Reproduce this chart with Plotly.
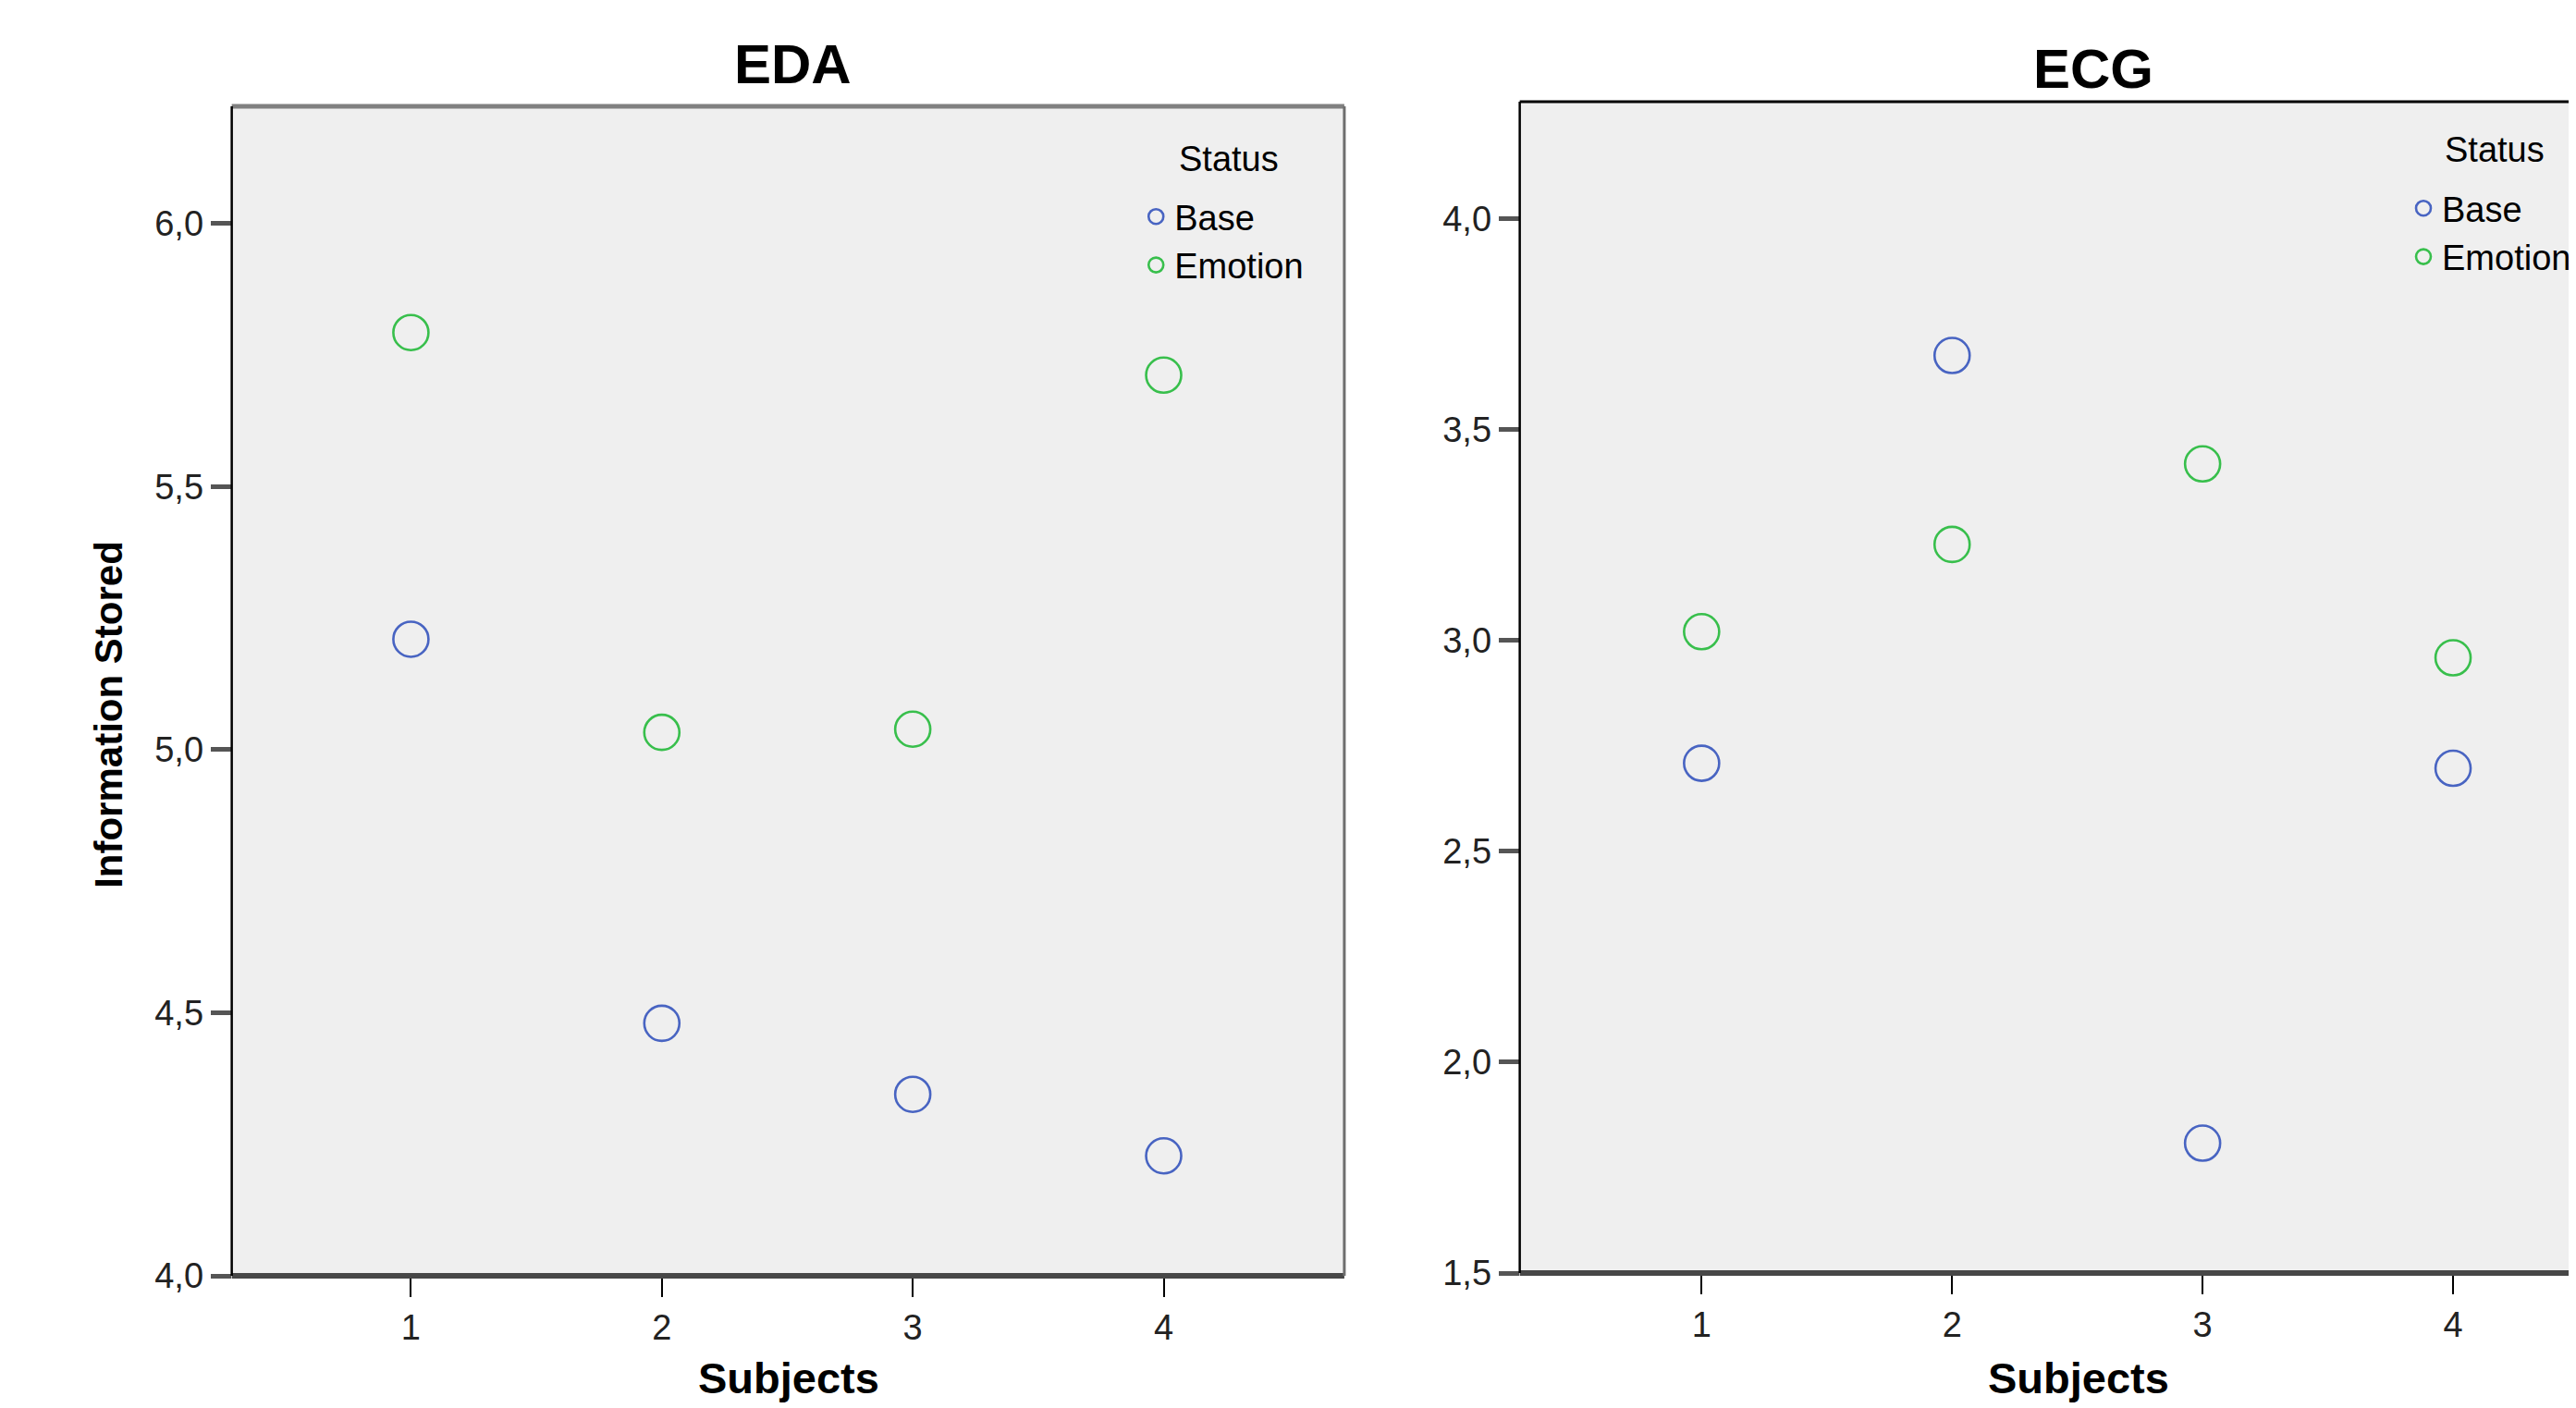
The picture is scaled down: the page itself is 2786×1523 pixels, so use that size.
import plotly.graph_objects as go

# ---- data ----
subjects = [1, 2, 3, 4]
eda_base = [5.21, 4.48, 4.345, 4.228]
eda_emotion = [5.793, 5.033, 5.039, 5.712]
ecg_base = [2.709, 3.676, 1.808, 2.697]
ecg_emotion = [3.021, 3.228, 3.419, 2.959]

eda_yticks = [4.0, 4.5, 5.0, 5.5, 6.0]
ecg_yticks = [1.5, 2.0, 2.5, 3.0, 3.5, 4.0]
x_ticks = [1, 2, 3, 4]
panel_titles = ["EDA", "ECG"]
series_names = ["Base", "Emotion"]
legend_title = "Status"
x_title = "Subjects"
y_title = "Information Stored"

BLUE = "#4864c2"
GREEN = "#38bf4c"
FONT = "Liberation Sans, Arial, sans-serif"
OFF = 8  # default page body margin
W, H = 2786 - OFF, 1523 - OFF

fig = go.Figure()


def add_series(y, name, color, xa, ya, legend):
    fig.add_trace(go.Scatter(
        x=subjects, y=y, mode="markers", name=name,
        xaxis=xa, yaxis=ya, legend=legend,
        marker=dict(symbol="circle-open", size=38, color=color,
                    line=dict(width=2.6, color=color)),
        showlegend=True,
    ))


add_series(eda_base, series_names[0], BLUE, "x", "y", "legend")
add_series(eda_emotion, series_names[1], GREEN, "x", "y", "legend")
add_series(ecg_base, series_names[0], BLUE, "x2", "y2", "legend2")
add_series(ecg_emotion, series_names[1], GREEN, "x2", "y2", "legend2")

# screen coords -> paper coords
px = lambda v: (v - OFF) / W
py = lambda v: 1 - (v - OFF) / H

xcommon = dict(
    tickvals=x_ticks, ticktext=[str(v) for v in x_ticks],
    ticks="outside", ticklen=22, tickwidth=2, tickcolor="black",
    showgrid=False, zeroline=False, showline=False, automargin=False,
    tickfont=dict(family=FONT, size=38, color="#222"),
)
ycommon = dict(
    ticks="outside", ticklen=22, tickwidth=5, tickcolor="#555",
    showgrid=False, zeroline=False, showline=False, tickformat=".1f",
    automargin=False,
    tickfont=dict(family=FONT, size=38, color="#222"),
)

eda_x = [px(251), px(1456)]
eda_y = [py(1380), py(115)]
ecg_x = [px(1646), 1.0]
ecg_y = [py(1377), py(110)]
ecg_xmax = 0.274 + (2786 - 1646) / 271.3

legend_common = dict(
    xanchor="left", yanchor="top",
    bgcolor="rgba(0,0,0,0)", borderwidth=0,
    font=dict(family=FONT, size=38, color="black"),
    tracegroupgap=0, itemwidth=30,
)

fig.update_layout(
    width=W, height=H,
    margin=dict(l=0, r=0, t=0, b=0),
    paper_bgcolor="white",
    plot_bgcolor="#efefef",
    separators=", ",
    font=dict(family=FONT, color="black"),
    xaxis=dict(domain=eda_x, range=[0.286, 4.72], anchor="y", **xcommon),
    yaxis=dict(domain=eda_y, range=[4.0, 6.223], anchor="x",
               tickvals=eda_yticks, **ycommon),
    xaxis2=dict(domain=ecg_x, range=[0.274, ecg_xmax], anchor="y2", **xcommon),
    yaxis2=dict(domain=ecg_y, range=[1.5, 4.278], anchor="x2",
                tickvals=ecg_yticks, **ycommon),
    legend=dict(x=px(1232), y=py(203), **legend_common),
    legend2=dict(x=px(2605), y=py(194), **legend_common),
    showlegend=True,
)


def frame(xr, yr, top_color, top_w, right=True):
    shapes = [
        dict(type="line", xref=f"{xr} domain", yref=f"{yr} domain",
             x0=0, x1=1, y0=0, y1=0, line=dict(color="#474747", width=6)),
        dict(type="line", xref=f"{xr} domain", yref=f"{yr} domain",
             x0=0, x1=1, y0=1, y1=1, line=dict(color=top_color, width=top_w)),
        dict(type="line", xref=f"{xr} domain", yref=f"{yr} domain",
             x0=0, x1=0, y0=0, y1=1, line=dict(color="black", width=2.5)),
    ]
    if right:
        shapes.append(dict(type="line", xref=f"{xr} domain", yref=f"{yr} domain",
                           x0=1, x1=1, y0=0, y1=1,
                           line=dict(color="#6e6e6e", width=3)))
    return shapes


fig.update_layout(shapes=frame("x", "y", "#808080", 5) + frame("x2", "y2", "black", 3, right=False))


def note(text, x, y, size, angle=0):
    return dict(text=text, x=px(x), y=py(y), xref="paper", yref="paper",
                showarrow=False, textangle=angle,
                font=dict(family=FONT, size=size, color="black"),
                xanchor="center", yanchor="middle")


def bottom_note(text, x):
    # box kept fully inside the figure so it neither pushes margins nor gets cut
    return dict(text=text, x=px(x), y=py(1519), xref="paper", yref="paper",
                showarrow=False,
                font=dict(family=FONT, size=47, color="black"),
                xanchor="center", yanchor="bottom")


ann = [
    note(f"<b>{panel_titles[0]}</b>", 859, 70, 60),
    note(f"<b>{panel_titles[1]}</b>", 2267, 74, 60),
    bottom_note(f"<b>{x_title}</b>", 854),
    bottom_note(f"<b>{x_title}</b>", 2251),
    note(f"<b>{y_title}</b>", 117, 773, 42, -90),
    note(legend_title, 1331, 172, 38),
    note(legend_title, 2702, 162, 38),
]
fig.update_layout(annotations=ann)

fig.write_html("out.html")
